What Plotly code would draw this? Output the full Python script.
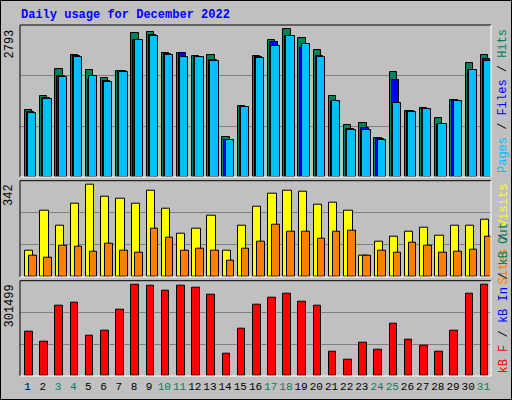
import plotly.graph_objects as go

days = list(range(1, 32))
weekend = [3, 4, 10, 11, 17, 18, 24, 25, 31]
hits = [1273, 1536, 2042, 2305, 2024, 1873, 2005, 2716, 2735, 2342, 2342, 2286, 2305, 756, 1338, 2286, 2586, 2793, 2624, 2399, 1536, 982, 1013, 738, 1986, 1254, 1311, 1123, 1450, 2161, 2305]
files = [1229, 1499, 1914, 2286, 1841, 1817, 2005, 2590, 2692, 2324, 2342, 2274, 2205, 701, 1326, 2261, 2549, 2659, 2436, 2286, 1418, 907, 932, 719, 1841, 1241, 1279, 990, 1432, 2030, 2230]
pages = [1217, 1481, 1895, 2267, 1911, 1798, 1986, 2584, 2661, 2305, 2267, 2267, 2199, 701, 1320, 2249, 2473, 2661, 2525, 2267, 1443, 888, 888, 701, 1401, 1223, 1279, 997, 1443, 2030, 2193]
visits = [98, 246, 188, 271, 342, 297, 289, 271, 318, 252, 160, 178, 226, 98, 188, 260, 308, 318, 315, 267, 275, 246, 79, 131, 150, 168, 183, 153, 188, 191, 213]
sites = [79, 72, 116, 112, 94, 123, 98, 90, 178, 145, 98, 105, 98, 60, 105, 131, 194, 168, 168, 142, 168, 172, 79, 98, 90, 127, 116, 90, 94, 101, 150]
kbf = [146443, 113431, 232275, 242178, 133238, 149744, 219070, 301499, 298198, 281692, 298198, 291595, 268487, 73817, 156346, 235576, 258683, 271888, 245479, 232275, 80419, 54010, 110130, 87022, 172852, 120033, 100227, 80419, 149744, 271888, 301499]

GREEN = "#00805c"; BLUE = "#0000ff"; CYAN = "#00bfff"
YEL = "#ffff00"; ORA = "#ff8000"; RED = "#ff0000"; BG = "#c0c0c0"
FONT = "Liberation Mono"
U = 31 / 471.0  # axis units per pixel

def bar(y, off, w, color, xa, ya):
    return go.Bar(x=[d + off * U for d in days], y=y, width=w * U, marker=dict(color=color, line=dict(color="black", width=1)),
                  xaxis=xa, yaxis=ya, hoverinfo="skip", showlegend=False)

fig = go.Figure()
fig.add_trace(bar(hits, 1.0, 7.3, GREEN, "x", "y"))
fig.add_trace(bar(files, 3.1, 7.5, BLUE, "x", "y"))
fig.add_trace(bar(pages, 4.7, 8.3, CYAN, "x", "y"))
fig.add_trace(bar(visits, 1.7, 8.3, YEL, "x2", "y2"))
fig.add_trace(bar(sites, 5.2, 7.6, ORA, "x2", "y2"))
fig.add_trace(bar(kbf, 1.2, 7.6, RED, "x3", "y3"))

xd = [20 / 512, 491 / 512]
doms = [(25, 177), (180.7, 277), (280.7, 376)]
tops = [max(hits) * 455 / 442, max(visits) * 288 / 277, max(kbf) * 285 / 274]
layout = dict(width=512, height=400, margin=dict(l=0, r=0, t=0, b=0), paper_bgcolor=BG, plot_bgcolor=BG,
              barmode="overlay", bargap=0)
ticktext = [f"<span style='color:{GREEN if d in weekend else 'black'}'>{d}</span>" for d in days]
for i, ((t, b), top) in enumerate(zip(doms, tops)):
    s = "" if i == 0 else str(i + 1)
    layout["xaxis" + s] = dict(domain=xd, range=[0.5, 31.5], anchor="y" + s, showgrid=False, zeroline=False,
                               tickvals=days if i == 2 else [], ticktext=ticktext if i == 2 else None,
                               ticks="", tickangle=0, ticklabelstandoff=2,
                               tickfont=dict(family=FONT, size=11, color="black"))
    layout["yaxis" + s] = dict(domain=[1 - b / 400, 1 - t / 400], range=[0, top], anchor="x" + s,
                               tickvals=[top / 3, 2 * top / 3], showticklabels=False, gridcolor="#808080",
                               gridwidth=1, zeroline=False, fixedrange=True)
fig.update_layout(**layout)

shapes = [dict(type="rect", xref="paper", yref="paper", x0=0, x1=1, y0=0, y1=1, line=dict(color="black", width=2))]
for (t, b) in doms:
    y0, y1 = 1 - b / 400, 1 - t / 400
    shapes += [
        dict(type="line", xref="paper", yref="paper", x0=xd[0], x1=xd[1], y0=y1, y1=y1, line=dict(color="black", width=1)),
        dict(type="line", xref="paper", yref="paper", x0=xd[0], x1=xd[0], y0=y0, y1=y1, line=dict(color="black", width=1)),
        dict(type="line", xref="paper", yref="paper", x0=xd[0], x1=xd[1], y0=y0, y1=y0, line=dict(color="white", width=1)),
        dict(type="line", xref="paper", yref="paper", x0=xd[1], x1=xd[1], y0=y0, y1=y1, line=dict(color="white", width=1)),
    ]
fig.update_layout(shapes=shapes)

ann = [
    dict(text="<b>Daily usage for December 2022</b>", x=19 / 512, y=1 - 15 / 400, xanchor="left", yanchor="middle",
         font=dict(family=FONT, size=12, color=BLUE)),
    dict(text=f"{max(hits)}", x=18 / 512, y=1 - 27 / 400, textangle=-90, xanchor="right", yanchor="top",
         font=dict(family=FONT, size=12, color="black")),
    dict(text=f"{max(visits)}", x=18 / 512, y=1 - 182 / 400, textangle=-90, xanchor="right", yanchor="top",
         font=dict(family=FONT, size=12, color="black")),
    dict(text=f"{max(kbf)}", x=18 / 512, y=1 - 282 / 400, textangle=-90, xanchor="right", yanchor="top",
         font=dict(family=FONT, size=12, color="black")),
    dict(text=f"<span style='color:{CYAN}'>Pages</span> / <span style='color:{BLUE}'>Files</span> / <span style='color:{GREEN}'>Hits</span>",
         x=494 / 512, y=1 - 27 / 400, textangle=-90, xanchor="left", yanchor="top", font=dict(family=FONT, size=12, color="black")),
    dict(text=f"<span style='color:{ORA}'>Sites</span> / <span style='color:{YEL}'>Visits</span>",
         x=494 / 512, y=1 - 182 / 400, textangle=-90, xanchor="left", yanchor="top", font=dict(family=FONT, size=12, color="black")),
    dict(text=f"<span style='color:{RED}'>kB F</span> / <span style='color:{BLUE}'>kB In</span> / <span style='color:{GREEN}'>kB Out</span>",
         x=494 / 512, y=1 - 376 / 400, textangle=-90, xanchor="left", yanchor="bottom", font=dict(family=FONT, size=12, color="black")),
]
for a in ann:
    a.update(xref="paper", yref="paper", showarrow=False)
fig.update_layout(annotations=ann)
fig.write_html("out.html", config={"displayModeBar": False})
with open("out.html") as f:
    html = f.read()
html = html.replace("<body>", "<body style='margin:0;overflow:hidden'>", 1)
with open("out.html", "w") as f:
    f.write(html)
